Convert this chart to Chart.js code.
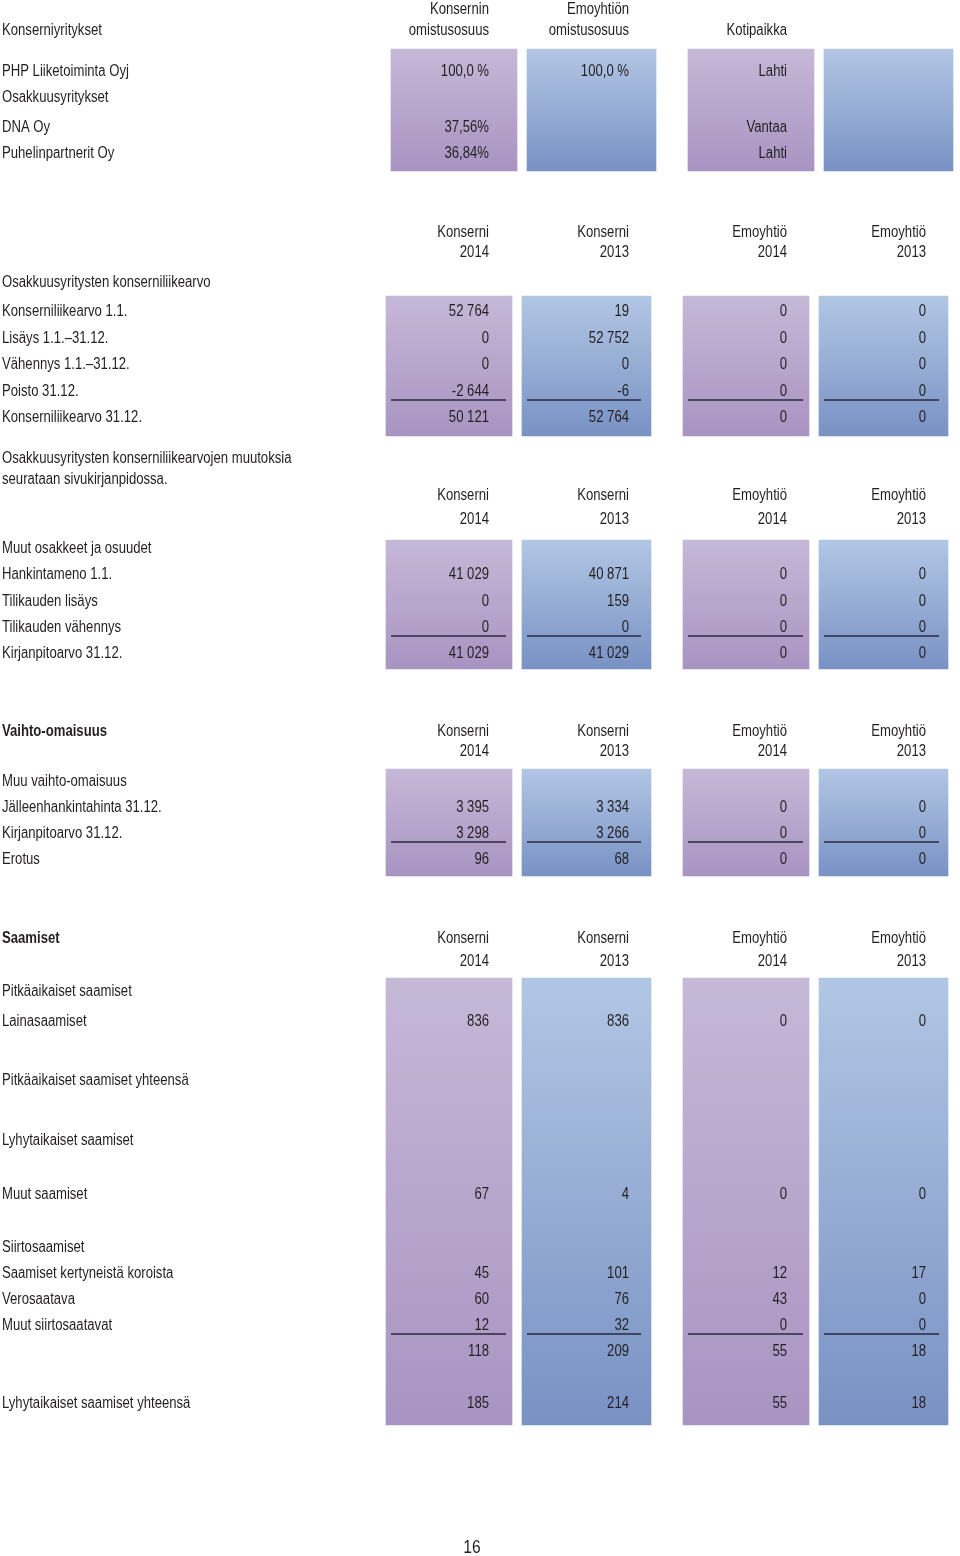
<!DOCTYPE html>
<html lang="fi">
<head>
<meta charset="utf-8">
<title>Konserniyritykset ja saamiset</title>
<script src="https://cdn.jsdelivr.net/npm/chart.js@4.4.1/dist/chart.umd.min.js"></script>
<style>
  html, body { margin: 0; padding: 0; background: #fff; }
  #page { display: block; }
</style>
</head>
<body>
<canvas id="page" width="960" height="1556"></canvas>
<script>
// ---- data ----
const colHeaders = [['Konserni', '2014'], ['Konserni', '2013'], ['Emoyhtiö', '2014'], ['Emoyhtiö', '2013']];

const yhtiotHeaders = [['Konsernin', 'omistusosuus'], ['Emoyhtiön', 'omistusosuus'], ['', 'Kotipaikka']];
const yhtiot = ['PHP Liiketoiminta Oyj', 'Osakkuusyritykset', 'DNA Oy', 'Puhelinpartnerit Oy'];
const konsernOsuus = ['100,0 %', null, '37,56%', '36,84%'];
const emoOsuus = ['100,0 %', null, null, null];
const kotipaikka = ['Lahti', null, 'Vantaa', 'Lahti'];

const liikearvoLabels = ['Konserniliikearvo 1.1.', 'Lisäys 1.1.–31.12.', 'Vähennys 1.1.–31.12.', 'Poisto 31.12.', 'Konserniliikearvo 31.12.'];
const liikearvoK14 = [52764, 0, 0, -2644, 50121];
const liikearvoK13 = [19, 52752, 0, -6, 52764];
const liikearvoE14 = [0, 0, 0, 0, 0];
const liikearvoE13 = [0, 0, 0, 0, 0];

const osakkeetLabels = ['Hankintameno 1.1.', 'Tilikauden lisäys', 'Tilikauden vähennys', 'Kirjanpitoarvo 31.12.'];
const osakkeetK14 = [41029, 0, 0, 41029];
const osakkeetK13 = [40871, 159, 0, 41029];
const osakkeetE14 = [0, 0, 0, 0];
const osakkeetE13 = [0, 0, 0, 0];

const vaihtoLabels = ['Jälleenhankintahinta 31.12.', 'Kirjanpitoarvo 31.12.', 'Erotus'];
const vaihtoK14 = [3395, 3298, 96];
const vaihtoK13 = [3334, 3266, 68];
const vaihtoE14 = [0, 0, 0];
const vaihtoE13 = [0, 0, 0];

const saamisetLabels = ['Pitkäaikaiset saamiset', 'Lainasaamiset', 'Pitkäaikaiset saamiset yhteensä', 'Lyhytaikaiset saamiset',
  'Muut saamiset', 'Siirtosaamiset', 'Saamiset kertyneistä koroista', 'Verosaatava', 'Muut siirtosaatavat', '',
  'Lyhytaikaiset saamiset yhteensä'];
const saamisetK14 = [null, 836, null, null, 67, null, 45, 60, 12, 118, 185];
const saamisetK13 = [null, 836, null, null, 4, null, 101, 76, 32, 209, 214];
const saamisetE14 = [null, 0, null, null, 0, null, 12, 43, 0, 55, 55];
const saamisetE13 = [null, 0, null, null, 0, null, 17, 0, 0, 18, 18];

// ---- layout (page pixels) ----
const FONT = "'Liberation Sans', Arial, sans-serif";
const NARROW = 0.82; // squeeze to a condensed look
const TEXT_DY = 1.5;
const INK = '#231f20';
const textRight = [489, 629, 787, 926];
const colSpan = [[386, 512], [522, 651], [683, 809], [819, 948]];
const lineSpan = [[391, 506], [527, 641], [688, 803], [824, 939]];
const topShift = 5; // first table sits a bit to the right

const sections = [
  { box: [296, 436], head: [231, 251], titles: [['Osakkuusyritysten konserniliikearvo', 281, false]],
    labels: liikearvoLabels, values: [liikearvoK14, liikearvoK13, liikearvoE14, liikearvoE13],
    rowY: [310, 337, 363, 390, 416], lineAfter: 3 },
  { box: [540, 669], head: [494, 518],
    titles: [['Osakkuusyritysten konserniliikearvojen muutoksia', 457, false], ['seurataan sivukirjanpidossa.', 478, false],
             ['Muut osakkeet ja osuudet', 547, false]],
    labels: osakkeetLabels, values: [osakkeetK14, osakkeetK13, osakkeetE14, osakkeetE13],
    rowY: [573, 600, 626, 652], lineAfter: 2 },
  { box: [769, 876], head: [730, 750],
    titles: [['Vaihto-omaisuus', 730, true], ['Muu vaihto-omaisuus', 780, false]],
    labels: vaihtoLabels, values: [vaihtoK14, vaihtoK13, vaihtoE14, vaihtoE13],
    rowY: [806, 832, 858], lineAfter: 1 },
  { box: [978, 1425], head: [937, 960], titles: [['Saamiset', 937, true]],
    labels: saamisetLabels, values: [saamisetK14, saamisetK13, saamisetE14, saamisetE13],
    rowY: [990, 1020, 1079, 1139, 1193, 1246, 1272, 1298, 1324, 1350, 1402], lineAfter: 8 }
];
const topBox = [49, 171];
const topRowY = [70, 96, 126, 152];

const shades = [
  ['rgb(198,184,215)', 'rgb(168,148,194)'],
  ['rgb(178,198,228)', 'rgb(121,146,196)'],
  ['rgb(198,184,215)', 'rgb(168,148,194)'],
  ['rgb(178,198,228)', 'rgb(121,146,196)']
];

function fmt(v) {
  if (v === null || v === undefined) return '';
  const s = String(Math.abs(v)).replace(/\B(?=(\d{3})+(?!\d))/g, ' ');
  return (v < 0 ? '-' : '') + s;
}

function columnBoxes(c) {
  const w = colSpan[c][1] - colSpan[c][0];
  const mid = colSpan[c][0] + w / 2;
  const boxes = [{ x: mid + topShift, y: topBox }];
  sections.forEach(s => boxes.push({ x: mid, y: s.box }));
  return boxes;
}

function gradientFill(c) {
  return function(context) {
    const chart = context.chart;
    const raw = context.raw;
    if (!chart.chartArea || !raw) return shades[c][0];
    const y0 = chart.scales.y.getPixelForValue(raw.y[0]);
    const y1 = chart.scales.y.getPixelForValue(raw.y[1]);
    const g = chart.ctx.createLinearGradient(0, y0, 0, y1);
    g.addColorStop(0, shades[c][0]);
    g.addColorStop(1, shades[c][1]);
    return g;
  };
}

const datasets = colHeaders.map((h, c) => ({
  type: 'bar',
  label: h.join(' '),
  data: columnBoxes(c),
  stack: 'cols',
  barThickness: colSpan[c][1] - colSpan[c][0],
  backgroundColor: gradientFill(c),
  borderWidth: 0
}));

const tableText = {
  id: 'tableText',
  afterDatasetsDraw(chart) {
    const { ctx, scales: { x, y } } = chart;
    const put = (str, px, py, align, bold, size) => {
      if (!str) return;
      ctx.save();
      ctx.font = (bold ? 'bold ' : '') + (size || 16) + 'px ' + FONT;
      ctx.textAlign = align;
      ctx.translate(x.getPixelForValue(px), y.getPixelForValue(py + TEXT_DY));
      ctx.scale(NARROW, 1);
      ctx.fillText(str, 0, 0);
      ctx.restore();
    };
    ctx.save();
    ctx.fillStyle = INK;
    ctx.textBaseline = 'middle';

    // first table
    put('Konserniyritykset', 2, 29, 'left');
    yhtiotHeaders.forEach((h, c) => {
      put(h[0], textRight[c], 8, 'right');
      put(h[1], textRight[c], 29, 'right');
    });
    yhtiot.forEach((name, r) => {
      put(name, 2, topRowY[r], 'left');
      put(konsernOsuus[r], textRight[0], topRowY[r], 'right');
      put(emoOsuus[r], textRight[1], topRowY[r], 'right');
      put(kotipaikka[r], textRight[2], topRowY[r], 'right');
    });

    // number tables
    sections.forEach(s => {
      s.titles.forEach(t => put(t[0], 2, t[1], 'left', t[2]));
      colHeaders.forEach((h, c) => {
        put(h[0], textRight[c], s.head[0], 'right');
        put(h[1], textRight[c], s.head[1], 'right');
      });
      s.labels.forEach((lab, r) => {
        put(lab, 2, s.rowY[r], 'left');
        s.values.forEach((col, c) => put(fmt(col[r]), textRight[c], s.rowY[r], 'right'));
      });
      // sum line between the last item and the total
      const ly = (s.rowY[s.lineAfter] + s.rowY[s.lineAfter + 1]) / 2 - 3;
      ctx.strokeStyle = '#2a2940';
      ctx.lineWidth = 1.3;
      lineSpan.forEach(sp => {
        ctx.beginPath();
        ctx.moveTo(x.getPixelForValue(sp[0]), y.getPixelForValue(ly));
        ctx.lineTo(x.getPixelForValue(sp[1]), y.getPixelForValue(ly));
        ctx.stroke();
      });
    });

    put('16', 472, 1546, 'center', false, 19);
    ctx.restore();
  }
};

new Chart(document.getElementById('page'), {
  data: { datasets },
  options: {
    responsive: false,
    animation: false,
    devicePixelRatio: 1,
    layout: { padding: 0 },
    scales: {
      x: { type: 'linear', min: 0, max: 960, offset: false, stacked: true, display: false },
      y: { type: 'linear', min: 0, max: 1556, reverse: true, stacked: false, display: false }
    },
    plugins: { legend: { display: false }, tooltip: { enabled: false } }
  },
  plugins: [tableText]
});
</script>
</body>
</html>
